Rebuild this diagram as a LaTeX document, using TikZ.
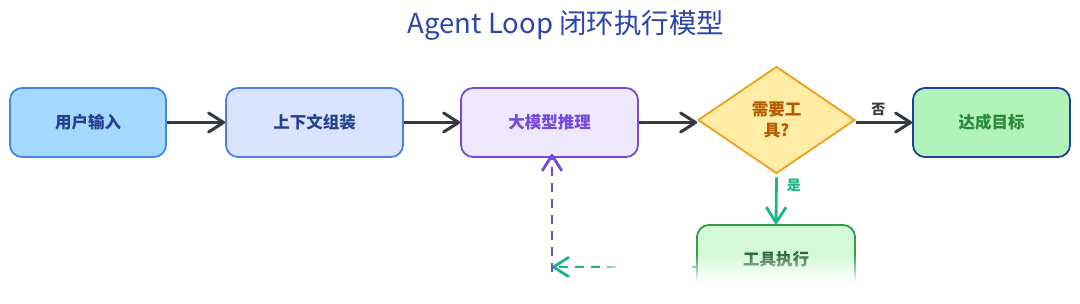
\documentclass[tikz,border=0pt]{standalone}
\usepackage{fontspec}
\setmainfont{Noto Sans CJK SC}
\usetikzlibrary{arrows.meta,shapes.geometric,fadings}
\definecolor{cTitle}{HTML}{2B45A8}
\definecolor{cArrow}{HTML}{343A40}
\definecolor{cOneF}{HTML}{A5D8FF}
\definecolor{cOneD}{HTML}{4287E8}
\definecolor{cTwoF}{HTML}{DBE4FF}
\definecolor{cTwoD}{HTML}{4C82E8}
\definecolor{cNavy}{HTML}{24408F}
\definecolor{cLlmF}{HTML}{EEE8FF}
\definecolor{cLlmD}{HTML}{7548E0}
\definecolor{cDecF}{HTML}{FFEDA6}
\definecolor{cDecD}{HTML}{F2A01A}
\definecolor{cDecT}{HTML}{B35C00}
\definecolor{cGoalF}{HTML}{B2F2BB}
\definecolor{cGoalD}{HTML}{1E3F9E}
\definecolor{cGoalT}{HTML}{2B8A3E}
\definecolor{cToolF}{HTML}{D3F9D8}
\definecolor{cToolD}{HTML}{2F9E44}
\definecolor{cToolT}{HTML}{2B6B3A}
\definecolor{cYes}{HTML}{1DB584}
\tikzset{
  box/.style={rounded corners=12pt, line width=1.8pt, minimum height=69pt, inner sep=0pt, font=\fontsize{16.5}{20}\selectfont\bfseries},
  tip/.style={-{Straight Barb[length=15pt,width=19pt,round]}},
  flow/.style={draw=cArrow, line width=3pt, tip},
  lbl/.style={font=\fontsize{14}{16}\selectfont\bfseries, inner sep=1pt},
}
\begin{document}
\begin{tikzpicture}[x=1pt,y=-1pt]
\useasboundingbox (0,0) rectangle (1080,304);
\fill[white] (0,0) rectangle (1080,304);
\node[text=cTitle, font=\fontsize{27.5}{32}\selectfont] (title) at (566,25) {Agent Loop 闭环执行模型};

\node[box, draw=cOneD, fill=cOneF, text=cNavy, minimum width=156pt] (inp) at (88,122.5) {用户输入};
\node[box, draw=cTwoD, fill=cTwoF, text=cNavy, minimum width=177pt] (ctx) at (314.5,122.5) {上下文组装};
\node[box, draw=cLlmD, fill=cLlmF, text=cLlmD, minimum width=177pt] (llm) at (549.5,122.5) {大模型推理};
\node[diamond, draw=cDecD, fill=cDecF, text=cDecT, line width=1.8pt, minimum width=157pt, minimum height=107pt, inner sep=0pt, shape aspect=1.47, align=center, font=\fontsize{16.5}{21}\selectfont\bfseries] (dec) at (776.5,120) {需要工\\具?};
\node[box, draw=cGoalD, fill=cGoalF, text=cGoalT, minimum width=157pt] (goal) at (991.5,122.5) {达成目标};
\node[box, draw=cToolD, fill=cToolF, text=cToolT, minimum width=158pt] (tool) at (776,259.5) {工具执行};

\draw[flow] (inp.east) -- (ctx.west);
\draw[flow] (ctx.east) -- (llm.west);
\draw[flow] (llm.east) -- (dec.west |- llm.east);
\draw[flow] (dec.east |- goal.west) -- node[lbl, text=cArrow, above=4pt, pos=0.4] (no) {否} (goal.west);
\draw[draw=cYes, line width=2.8pt, tip] ([yshift=-3pt]dec.south) -- node[lbl, text=cYes, right=8pt, pos=0.18] (yes) {是} (tool.north);

\coordinate (ret) at (552,267);
\draw[draw=cYes, line width=2.8pt, dash pattern=on 9pt off 7pt, tip] (tool.west |- ret) -- (ret);
\draw[draw=cLlmD, line width=2.8pt, dash pattern=on 9pt off 7pt, tip] ([yshift=-5pt]ret) -- ([yshift=4pt]ret |- llm.south);

% fade-out of the lower part, as in the reference
\fill[white, path fading=west] (600,252) rectangle (622,304);
\fill[white] (622,252) rectangle (692,304);
\fill[white, path fading=north] (622,254) rectangle (1080,282);
\fill[white] (622,282) rectangle (1080,304);
\end{tikzpicture}
\end{document}
